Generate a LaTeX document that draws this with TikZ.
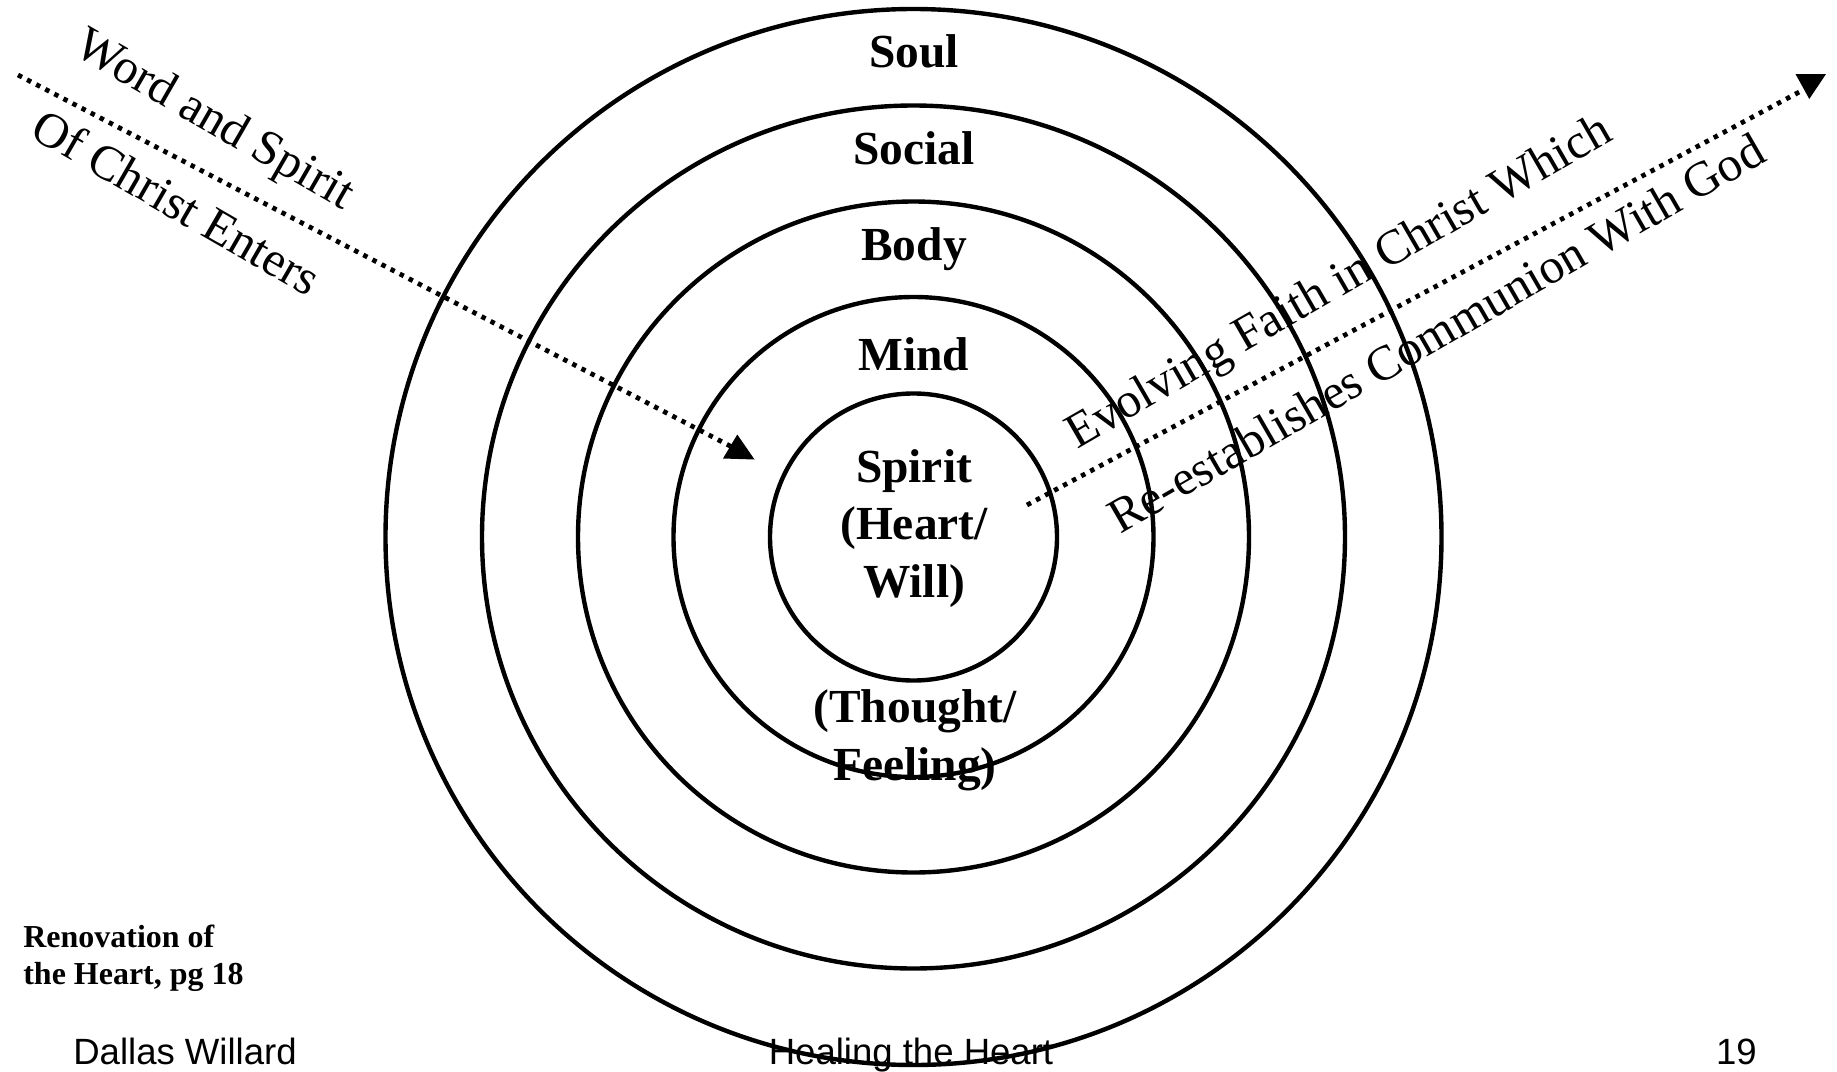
\documentclass[tikz,border=0pt]{standalone}
\usepackage{fontspec}
\setmainfont{Liberation Serif}
\newfontfamily\arialfont{Liberation Sans}
\begin{document}
\begin{tikzpicture}[x=0.02cm,y=-0.02cm,
	ring/.style={line width=0.088cm},
	dotted line/.style={line width=0.095cm,dash pattern=on 0.09cm off 0.115cm},
	layer/.style={font=\bfseries\fontsize{27}{32}\selectfont,anchor=base,inner sep=0pt},
	crossing/.style={font=\fontsize{28}{33}\selectfont,inner sep=0pt},
	source/.style={font=\bfseries\fontsize{18.2}{22}\selectfont,anchor=base west,inner sep=0pt},
	footer/.style={font=\arialfont\fontsize{20.8}{25}\selectfont,inner sep=0pt}]
	\useasboundingbox (0,0) rectangle (1837,1072);
	\coordinate (c) at (913.5,537);
	\foreach \r in {143.5,240,335.5,431.5,528}
		\draw[ring] (c) circle[radius=\r];
	\node[layer] (soul) at (914,67) {Soul};
	\node[layer] (social) at (914,164) {Social};
	\node[layer] (body) at (914,260) {Body};
	\node[layer] (mind) at (914,370) {Mind};
	\node[layer] (spirit) at (914,482) {Spirit};
	\node[layer] (heart) at (914,539) {(Heart/};
	\node[layer] (will) at (914,597) {Will)};
	\node[layer] (thought) at (915,722) {(Thought/};
	\node[layer] (feeling) at (915,780) {Feeling)};
	\coordinate (enterstart) at (18,75);
	\coordinate (enterend) at (732,447);
	\draw[dotted line] (enterstart)--(enterend);
	\fill[shift={(enterend)}] (-9,11.5)--(5.3,-12.5)--(22.5,12.5)--cycle;
	\coordinate (faithstart) at (1027,505);
	\coordinate (faithend) at (1803,90);
	\draw[dotted line] (faithstart)--(faithend);
	\fill[shift={(faithend)}] (-7.5,-16)--(23,-16)--(6.3,9)--cycle;
	\node[crossing,rotate=-30] (word) at (214,122) {Word and Spirit};
	\node[crossing,rotate=-30] (enters) at (177,202) {Of Christ Enters};
	\node[crossing,rotate=30] (evolving) at (1340,284) {Evolving Faith in Christ Which};
	\node[crossing,rotate=30] (communion) at (1436,333) {Re-establishes Communion With God};
	\node[source] (book) at (23,947) {Renovation of};
	\node[source] (page) at (23,984) {the Heart, pg 18};
	\node[footer,anchor=base west] (author) at (73,1064) {Dallas Willard};
	\node[footer,anchor=base] (title) at (911,1064) {Healing the Heart};
	\node[footer,anchor=base east] (number) at (1757,1064) {19};
\end{tikzpicture}
\end{document}
